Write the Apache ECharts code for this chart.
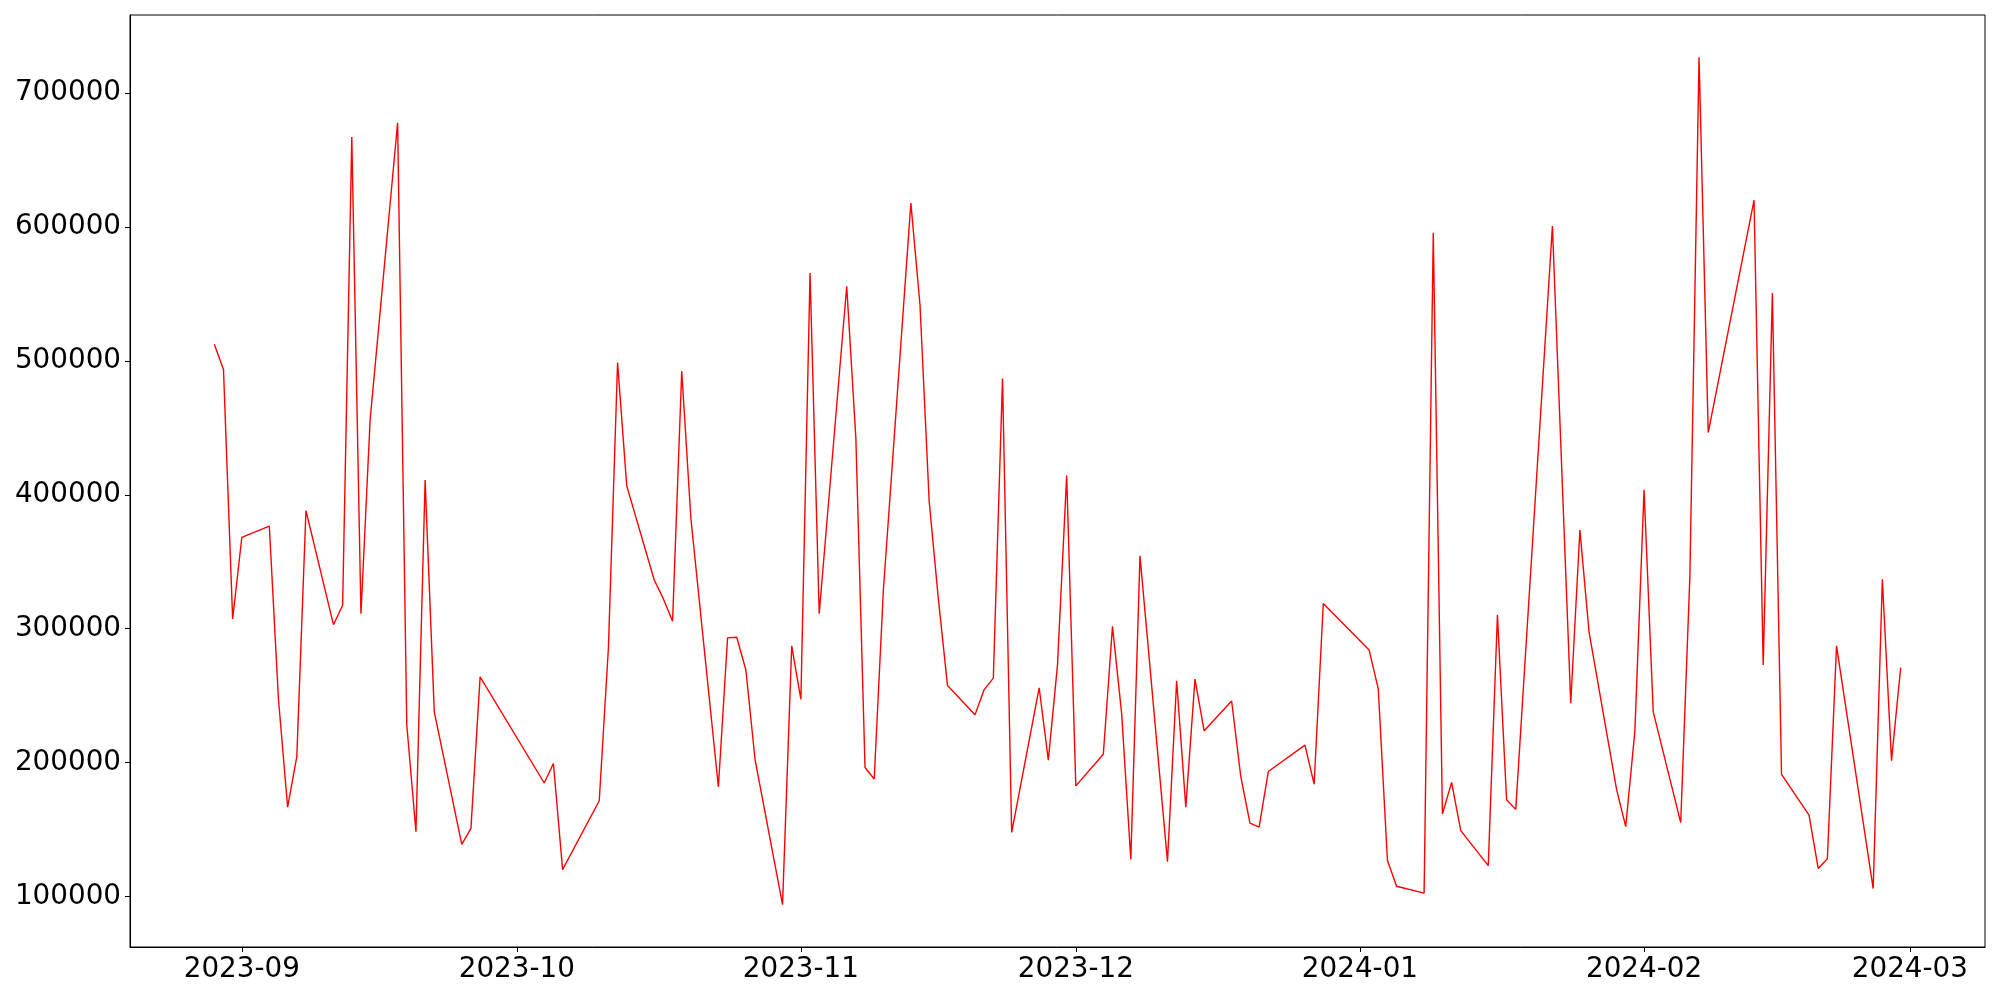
<!DOCTYPE html>
<html>
<head>
<meta charset="utf-8">
<script src="https://cdn.jsdelivr.net/npm/echarts@6/dist/echarts.min.js"></script>
<style>
html,body{margin:0;padding:0;background:#fff;}
#chart{width:2000px;height:1000px;}
</style>
</head>
<body>
<div id="chart"></div>
<script>
const dates = [
'2023-08-29','2023-08-30','2023-08-31','2023-09-01','2023-09-04','2023-09-05','2023-09-06','2023-09-07','2023-09-08',
'2023-09-11','2023-09-12','2023-09-13','2023-09-14','2023-09-15','2023-09-18','2023-09-19','2023-09-20','2023-09-21','2023-09-22',
'2023-09-25','2023-09-26','2023-09-27','2023-10-04','2023-10-05','2023-10-06','2023-10-10','2023-10-11','2023-10-12','2023-10-13',
'2023-10-16','2023-10-17','2023-10-18','2023-10-19','2023-10-20','2023-10-23','2023-10-24','2023-10-25','2023-10-26','2023-10-27',
'2023-10-30','2023-10-31','2023-11-01','2023-11-02','2023-11-03','2023-11-06','2023-11-07','2023-11-08','2023-11-09','2023-11-10',
'2023-11-13','2023-11-14','2023-11-15','2023-11-16','2023-11-17','2023-11-20','2023-11-21','2023-11-22','2023-11-23','2023-11-24',
'2023-11-27','2023-11-28','2023-11-29','2023-11-30','2023-12-01','2023-12-04','2023-12-05','2023-12-06','2023-12-07','2023-12-08',
'2023-12-11','2023-12-12','2023-12-13','2023-12-14','2023-12-15','2023-12-18','2023-12-19','2023-12-20','2023-12-21','2023-12-22',
'2023-12-26','2023-12-27','2023-12-28','2024-01-02','2024-01-03','2024-01-04','2024-01-05','2024-01-08','2024-01-09','2024-01-10',
'2024-01-11','2024-01-12','2024-01-15','2024-01-16','2024-01-17','2024-01-18','2024-01-22','2024-01-24','2024-01-25','2024-01-26',
'2024-01-29','2024-01-30','2024-01-31','2024-02-01','2024-02-02','2024-02-05','2024-02-06','2024-02-07','2024-02-08','2024-02-13',
'2024-02-14','2024-02-15','2024-02-16','2024-02-19','2024-02-20','2024-02-21','2024-02-22','2024-02-26','2024-02-27','2024-02-28',
'2024-02-29'
];
const values = [
512480,493600,307250,368150,376660,247300,166800,204480,388240,
303000,317550,667100,311130,455920,677860,228060,148360,410980,237910,
138960,150900,264030,184780,199330,120080,171500,285830,498750,406650,
336430,322250,305600,492330,382250,181790,293140,293590,269180,202320,
93950,287170,247320,565600,311130,555770,442250,196340,187760,328670,
617850,541590,395090,322250,257550,235750,254560,263140,486810,147910,
255900,201870,273000,414340,182610,206200,301720,236570,127760,354410,
126050,261050,166790,262320,223740,246050,189480,154780,151790,193360,
213060,183880,318810,284190,255010,126940,107690,102540,595620,161640,
185230,149180,123060,310310,172320,165080,600690,244330,373670,297400,
180080,152240,223740,403670,237910,155230,339410,726670,446510,620020,
273000,550620,191200,160750,120970,128210,287170,105970,336870,201500,
270900
];
const xTickLabels = ['2023-09','2023-10','2023-11','2023-12','2024-01','2024-02','2024-03'];
const yTickValues = [100000,200000,300000,400000,500000,600000,700000];

function toUTC(s){
  const p = s.split('-').map(Number);
  return Date.UTC(p[0], p[1]-1, p[2] || 1);
}
const xs = dates.map(toUTC);
const seriesData = xs.map((t,i)=>[t, values[i]]);
const xTicks = xTickLabels.map(toUTC);

const xMinD = Math.min(...xs), xMaxD = Math.max(...xs);
const xPad = (xMaxD - xMinD) * 0.05;
const yMinD = Math.min(...values), yMaxD = Math.max(...values);
const yPad = (yMaxD - yMinD) * 0.05;

function fmtMonth(v){
  const d = new Date(v);
  const m = d.getUTCMonth()+1;
  return d.getUTCFullYear() + '-' + (m<10?'0':'') + m;
}

const FONT = 'DejaVu Sans';
const chart = echarts.init(document.getElementById('chart'), null, {renderer:'canvas'});
chart.setOption({
  animation: false,
  backgroundColor: '#fff',
  grid: {left:130, right:15, top:15, bottom:53, show:true, borderColor:'#000', borderWidth:1, backgroundColor:'transparent'},
  xAxis: {
    type: 'value',
    min: xMinD - xPad,
    max: xMaxD + xPad,
    scale: true,
    splitLine: {show:false},
    axisLine: {show:true, onZero:false, lineStyle:{color:'#000', width:1}},
    axisTick: {show:true, customValues: xTicks, length:5, inside:false, lineStyle:{color:'#000', width:1}},
    axisLabel: {
      customValues: xTicks,
      formatter: fmtMonth,
      color:'#000', fontFamily: FONT, fontSize: 27.8, margin: 9
    }
  },
  yAxis: {
    type: 'value',
    min: yMinD - yPad,
    max: yMaxD + yPad,
    scale: true,
    splitLine: {show:false},
    axisLine: {show:true, onZero:false, lineStyle:{color:'#000', width:1}},
    axisTick: {show:true, customValues: yTickValues, length:5, inside:false, lineStyle:{color:'#000', width:1}},
    axisLabel: {
      customValues: yTickValues,
      formatter: v => String(Math.round(v)),
      color:'#000', fontFamily: FONT, fontSize: 27.8, margin: 9
    }
  },
  series: [{
    type: 'line',
    data: seriesData,
    showSymbol: false,
    symbol: 'none',
    lineStyle: {color:'#ff0000', width:1.4},
    itemStyle: {color:'#ff0000'}
  }]
});
</script>
</body>
</html>
